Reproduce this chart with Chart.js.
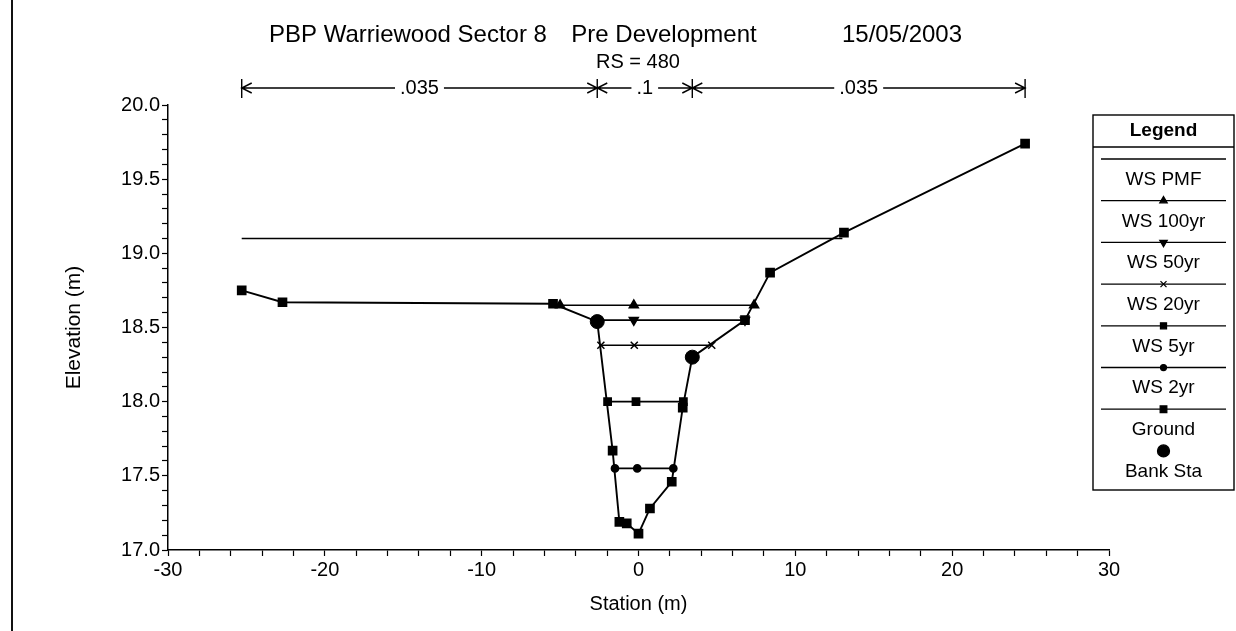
<!DOCTYPE html>
<html>
<head>
<meta charset="utf-8">
<title>PBP Warriewood Sector 8 - RS 480</title>
<script src="https://cdn.jsdelivr.net/npm/chart.js@4.4.1/dist/chart.umd.min.js"></script>
<style>
  html, body { margin: 0; padding: 0; background: #fff; }
  #wrap { position: relative; width: 1236px; height: 631px; }
  #edge { position: absolute; left: 11px; top: 0; width: 2px; height: 631px; background: #111; }
</style>
</head>
<body>
<div id="wrap">
  <canvas id="chart" width="1236" height="631"></canvas>
  <div id="edge"></div>
</div>
<script>
// cross section RS 480
const groundStation = [-25.3, -22.7, -5.45, -2.63, -1.65, -1.22, -0.75, 0.0, 0.73, 2.12, 2.82, 3.43, 6.79, 8.39, 13.1, 24.65];
const groundElev    = [18.75, 18.67, 18.66, 18.54, 17.67, 17.19, 17.18, 17.11, 17.28, 17.46, 17.96, 18.30, 18.55, 18.87, 19.14, 19.74];

const bankStation = [-2.63, 3.43];
const bankElev    = [18.54, 18.30];

// water surfaces: stations where the line / markers sit, and the level
const wsPmfStation = [-25.3, 13.0];
const wsPmfElev = 19.1;
const ws100Station = [-5.0, -0.3, 7.37];
const ws100Elev = 18.65;
const ws50Station = [-2.63, -0.3, 6.79];
const ws50Elev = 18.55;
const ws20Station = [-2.4, -0.27, 4.67];
const ws20Elev = 18.38;
const ws5Station = [-1.97, -0.16, 2.86];
const ws5Elev = 18.0;
const ws2Station = [-1.5, -0.08, 2.22];
const ws2Elev = 17.55;

// Manning's n zones
const nBounds = [-25.3, -2.63, 3.43, 24.65];
const nValues = ['.035', '.1', '.035'];

// axes
const xMajorTicks = [-30, -20, -10, 0, 10, 20, 30];
const xMinorStep = 2;
const yMajorTicks = [17.0, 17.5, 18.0, 18.5, 19.0, 19.5, 20.0];
const yMinorStep = 0.1;

const titleParts = ['PBP Warriewood Sector 8', 'Pre Development', '15/05/2003'];
const rsText = 'RS = 480';

const FONT = 'Arial, "Liberation Sans", sans-serif';

function pts(xs, ys) {
  return xs.map((x, i) => ({ x: x, y: Array.isArray(ys) ? ys[i] : ys }));
}

function minorTicks(lo, hi, step) {
  const out = [];
  const n = Math.round((hi - lo) / step);
  for (let i = 0; i <= n; i++) out.push({ value: +(lo + i * step).toFixed(4) });
  return out;
}

const line = { borderColor: '#000', backgroundColor: '#000', showLine: true, fill: false, tension: 0 };

const datasets = [
  { ...line, label: 'WS PMF', data: pts(wsPmfStation, wsPmfElev), borderWidth: 1.7, pointRadius: 0 },
  { ...line, label: 'WS 100yr', data: pts(ws100Station, ws100Elev), borderWidth: 1.7, pointStyle: 'triangle', pointRadius: 5 },
  { ...line, label: 'WS 50yr', data: pts(ws50Station, ws50Elev), borderWidth: 1.7, pointStyle: 'triangle', rotation: 180, pointRadius: 5 },
  { ...line, label: 'WS 20yr', data: pts(ws20Station, ws20Elev), borderWidth: 1.5, pointStyle: 'crossRot', pointRadius: 5, pointBorderWidth: 1.5 },
  { ...line, label: 'WS 5yr', data: pts(ws5Station, ws5Elev), borderWidth: 1.7, pointStyle: 'rect', pointRadius: 5 },
  { ...line, label: 'WS 2yr', data: pts(ws2Station, ws2Elev), borderWidth: 1.7, pointStyle: 'circle', pointRadius: 3.5 },
  { ...line, label: 'Ground', data: pts(groundStation, groundElev), borderWidth: 1.9, pointStyle: 'rect', pointRadius: 5.5 },
  { ...line, label: 'Bank Sta', data: pts(bankStation, bankElev), showLine: false, pointStyle: 'circle', pointRadius: 7 }
];

// title, RS label and the n-value dimension line
const headerPlugin = {
  id: 'header',
  afterDraw(chart) {
    const ctx = chart.ctx;
    const xs = chart.scales.x;
    ctx.save();
    ctx.fillStyle = '#000';
    ctx.strokeStyle = '#000';
    ctx.textAlign = 'center';
    ctx.textBaseline = 'middle';
    ctx.font = '24px ' + FONT;
    ctx.fillText(titleParts[0], 408, 35);
    ctx.fillText(titleParts[1], 664, 35);
    ctx.fillText(titleParts[2], 902, 35);
    ctx.font = '20px ' + FONT;
    ctx.fillText(rsText, 638, 62);

    const y = 88;
    ctx.lineWidth = 1.4;
    nBounds.forEach(b => {
      const px = xs.getPixelForValue(b);
      ctx.beginPath();
      ctx.moveTo(px, y - 9);
      ctx.lineTo(px, y + 10);
      ctx.stroke();
    });
    for (let i = 0; i < nValues.length; i++) {
      const a = xs.getPixelForValue(nBounds[i]);
      const b = xs.getPixelForValue(nBounds[i + 1]);
      const mid = (a + b) / 2;
      const half = ctx.measureText(nValues[i]).width / 2 + 5;
      ctx.fillText(nValues[i], mid, y);
      ctx.beginPath();
      ctx.moveTo(a, y); ctx.lineTo(mid - half, y);
      ctx.moveTo(mid + half, y); ctx.lineTo(b, y);
      // arrow heads
      ctx.moveTo(a + 10, y - 5); ctx.lineTo(a, y); ctx.lineTo(a + 10, y + 5);
      ctx.moveTo(b - 10, y - 5); ctx.lineTo(b, y); ctx.lineTo(b - 10, y + 5);
      ctx.stroke();
    }
    ctx.restore();
  }
};

// boxed legend with the sample line above each label
const boxLegendPlugin = {
  id: 'boxLegend',
  afterDraw(chart) {
    const ctx = chart.ctx;
    const L = 1093, R = 1234, T = 115, H = 147, B = 490;
    const cx = (L + R) / 2;
    ctx.save();
    ctx.strokeStyle = '#000';
    ctx.fillStyle = '#000';
    ctx.lineWidth = 1.4;
    ctx.strokeRect(L, T, R - L, B - T);
    ctx.beginPath();
    ctx.moveTo(L, H); ctx.lineTo(R, H);
    ctx.stroke();
    ctx.textAlign = 'center';
    ctx.textBaseline = 'middle';
    ctx.font = 'bold 19px ' + FONT;
    ctx.fillText('Legend', cx, 131);
    ctx.font = '19px ' + FONT;
    chart.data.datasets.forEach((ds, i) => {
      const y0 = 159 + i * 41.7;
      ctx.lineWidth = 1.3;
      if (ds.showLine !== false) {
        ctx.beginPath();
        ctx.moveTo(L + 8, y0); ctx.lineTo(R - 8, y0);
        ctx.stroke();
      }
      if (ds.pointRadius > 0) {
        Chart.helpers.drawPoint(ctx, {
          pointStyle: ds.pointStyle,
          rotation: ds.rotation || 0,
          radius: ds.showLine === false ? 6 : Math.min(ds.pointRadius, 5.5) * 0.85,
          borderWidth: 1.2
        }, cx, y0);
      }
      ctx.fillText(ds.label, cx, y0 + 20.7);
    });
    ctx.restore();
  }
};

new Chart(document.getElementById('chart'), {
  type: 'scatter',
  data: { datasets: datasets },
  options: {
    responsive: false,
    animation: false,
    layout: { padding: { left: 58, right: 127, top: 105, bottom: 11 } },
    plugins: {
      legend: { display: false },
      tooltip: { enabled: false }
    },
    elements: {
      point: { borderColor: '#000', backgroundColor: '#000', borderWidth: 1 }
    },
    scales: {
      x: {
        type: 'linear',
        min: -30,
        max: 30,
        afterFit: s => { s.height = 70; },
        afterBuildTicks: s => { s.ticks = minorTicks(-30, 30, xMinorStep); },
        border: { color: '#000', width: 1.5 },
        grid: { drawOnChartArea: false, color: '#000', tickLength: 6, tickWidth: 1.2 },
        ticks: {
          autoSkip: false,
          maxRotation: 0,
          padding: 2,
          color: '#000',
          font: { family: FONT, size: 20 },
          callback: v => xMajorTicks.includes(Math.round(v)) && Math.abs(v % 10) < 1e-6 ? String(Math.round(v)) : ''
        },
        title: { display: true, text: 'Station (m)', color: '#000', font: { family: FONT, size: 20 } }
      },
      y: {
        type: 'linear',
        min: 17,
        max: 20,
        afterFit: s => { s.width = 110; },
        afterBuildTicks: s => { s.ticks = minorTicks(17, 20, yMinorStep); },
        border: { color: '#000', width: 1.5 },
        grid: { drawOnChartArea: false, color: '#000', tickLength: 6, tickWidth: 1.2 },
        ticks: {
          autoSkip: false,
          padding: 2,
          color: '#000',
          font: { family: FONT, size: 20 },
          callback: v => {
            const m = yMajorTicks.find(t => Math.abs(t - v) < 1e-6);
            return m === undefined ? '' : m.toFixed(1);
          }
        },
        title: { display: true, text: 'Elevation (m)', color: '#000', font: { family: FONT, size: 21 } }
      }
    }
  },
  plugins: [headerPlugin, boxLegendPlugin]
});
</script>
</body>
</html>
